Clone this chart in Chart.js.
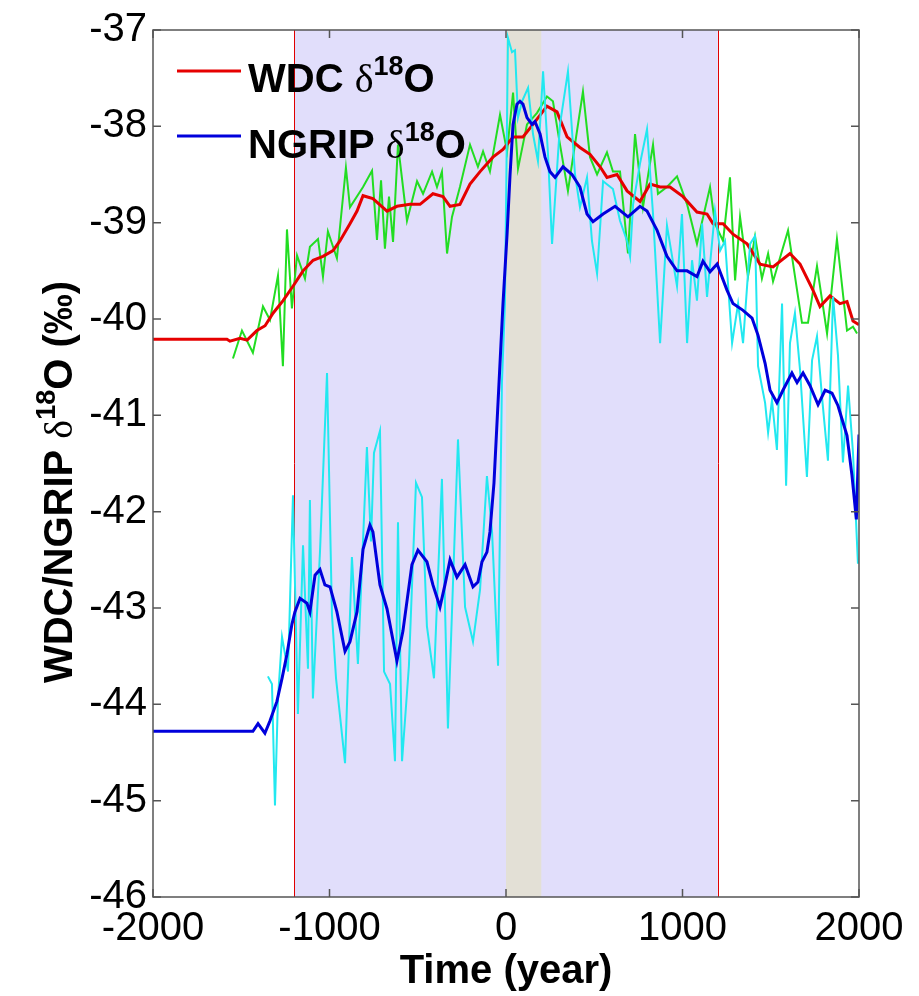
<!DOCTYPE html>
<html>
<head>
<meta charset="utf-8">
<script src="https://cdn.jsdelivr.net/npm/chart.js@4"></script>
<style>
  html, body { margin:0; padding:0; background:#fff; }
  canvas { display:block; }
</style>
</head>
<body>
<canvas id="chart" width="919" height="996"></canvas>
<script>
// WDC smoothed (red)
const wdcYears = [-2000,-1581,-1564,-1507,-1467,-1411,-1365,-1320,-1263,-1207,-1150,-1093,-1037,-980,-941,-884,-844,-810,-754,-674,-618,-544,-487,-414,-357,-317,-261,-204,-147,-74,-17,40,96,153,232,289,346,419,476,533,572,629,686,759,816,873,929,1003,1082,1139,1173,1230,1286,1366,1439,1513,1609,1666,1739,1779,1836,1892,1932,1966,2000];
const wdcVals = [-40.21,-40.21,-40.23,-40.20,-40.22,-40.12,-40.07,-39.94,-39.81,-39.66,-39.50,-39.39,-39.35,-39.29,-39.19,-39.01,-38.88,-38.72,-38.75,-38.88,-38.83,-38.81,-38.81,-38.70,-38.73,-38.83,-38.81,-38.60,-38.47,-38.32,-38.24,-38.11,-38.11,-37.98,-37.79,-37.85,-38.11,-38.22,-38.29,-38.42,-38.53,-38.50,-38.67,-38.78,-38.60,-38.63,-38.63,-38.73,-38.89,-38.91,-39.01,-39.01,-39.12,-39.22,-39.43,-39.46,-39.32,-39.43,-39.70,-39.87,-39.76,-39.84,-39.82,-40.02,-40.06];

// WDC raw (green)
const wdcRawYears = [-1547,-1496,-1434,-1377,-1337,-1292,-1264,-1241,-1213,-1184,-1139,-1111,-1065,-1037,-1009,-958,-907,-884,-810,-759,-731,-708,-686,-663,-640,-612,-561,-504,-470,-419,-391,-363,-334,-306,-261,-204,-159,-130,-91,-34,6,40,68,119,176,232,266,306,351,436,476,516,572,606,646,691,731,776,833,861,912,969,1026,1082,1156,1184,1230,1269,1298,1326,1371,1411,1450,1485,1513,1598,1677,1711,1762,1819,1875,1932,1966,1989];
const wdcRawVals = [-40.41,-40.12,-40.35,-39.87,-40.01,-39.55,-40.49,-39.07,-39.89,-39.34,-39.58,-39.25,-39.17,-39.56,-39.09,-39.37,-38.43,-38.84,-38.63,-38.46,-39.18,-38.56,-39.27,-38.73,-39.20,-38.19,-38.98,-38.57,-38.70,-38.47,-38.63,-38.47,-39.32,-38.94,-38.63,-38.19,-38.42,-38.26,-38.47,-37.88,-38.26,-37.65,-38.44,-37.98,-37.86,-37.69,-37.74,-38.19,-38.67,-37.64,-38.32,-38.50,-38.27,-38.47,-38.47,-39.32,-38.08,-38.84,-38.19,-38.70,-38.63,-38.52,-38.81,-39.22,-38.63,-39.01,-39.19,-38.53,-39.60,-38.94,-39.56,-39.14,-39.58,-39.32,-39.61,-39.08,-40.04,-40.04,-39.45,-40.15,-39.17,-40.12,-40.08,-40.15];

// NGRIP smoothed (blue)
const ngripYears = [-2000,-1434,-1405,-1366,-1337,-1298,-1269,-1241,-1213,-1196,-1167,-1128,-1111,-1082,-1054,-1026,-997,-958,-912,-884,-844,-810,-771,-754,-714,-674,-618,-584,-533,-499,-448,-414,-374,-346,-317,-278,-232,-187,-159,-136,-108,-91,-68,-51,-34,-17,6,23,40,62,79,96,119,147,164,193,221,249,278,323,374,419,459,493,550,618,691,759,799,856,912,969,1026,1082,1116,1156,1196,1252,1286,1343,1394,1428,1468,1496,1535,1569,1620,1649,1683,1722,1768,1808,1847,1881,1932,1960,1985,2000];
const ngripVals = [-44.28,-44.28,-44.20,-44.30,-44.17,-43.97,-43.73,-43.48,-43.17,-43.04,-42.90,-42.95,-43.04,-42.66,-42.60,-42.76,-42.78,-43.04,-43.45,-43.35,-43.04,-42.39,-42.14,-42.21,-42.76,-43.01,-43.55,-43.24,-42.55,-42.40,-42.52,-42.76,-42.99,-42.76,-42.50,-42.68,-42.55,-42.78,-42.73,-42.52,-42.42,-42.21,-41.70,-41.08,-40.46,-39.84,-39.12,-38.50,-37.98,-37.77,-37.74,-37.77,-37.91,-37.98,-37.95,-38.08,-38.32,-38.47,-38.53,-38.42,-38.50,-38.63,-38.91,-38.99,-38.91,-38.83,-38.94,-38.83,-38.88,-39.08,-39.35,-39.50,-39.50,-39.56,-39.40,-39.51,-39.43,-39.70,-39.84,-39.91,-39.99,-40.17,-40.46,-40.74,-40.87,-40.74,-40.56,-40.66,-40.56,-40.69,-40.89,-40.74,-40.77,-40.90,-41.21,-41.62,-42.08,-41.20];

// NGRIP raw (cyan)
const ngripRawYears = [-1349,-1326,-1309,-1292,-1269,-1235,-1207,-1179,-1150,-1122,-1111,-1094,-1054,-1014,-986,-963,-912,-873,-839,-788,-765,-748,-714,-691,-657,-629,-612,-589,-550,-510,-476,-448,-408,-363,-329,-272,-232,-187,-147,-108,-79,-45,-23,-6,11,34,51,68,91,125,153,181,210,238,261,306,351,391,419,459,487,516,550,606,646,686,703,720,759,799,833,873,912,941,969,997,1026,1054,1082,1111,1139,1184,1213,1241,1281,1315,1343,1383,1411,1428,1468,1485,1507,1535,1564,1587,1609,1637,1666,1705,1734,1762,1790,1824,1853,1881,1909,1938,1966,1994];
const ngripRawVals = [-43.71,-43.79,-45.05,-43.94,-43.30,-43.66,-41.83,-44.10,-42.35,-43.63,-41.88,-43.94,-42.42,-40.56,-43.07,-43.73,-44.61,-42.47,-43.58,-41.33,-42.31,-41.39,-41.16,-43.66,-43.79,-44.59,-42.11,-44.59,-43.60,-41.70,-41.85,-43.19,-43.73,-41.66,-44.25,-41.25,-42.99,-43.35,-42.81,-41.63,-42.21,-43.60,-40.66,-39.84,-37.08,-37.23,-37.21,-37.91,-37.74,-37.60,-38.08,-38.36,-37.43,-38.29,-39.22,-37.98,-37.43,-38.50,-38.84,-38.53,-39.19,-39.53,-38.57,-38.65,-38.98,-39.19,-39.35,-38.81,-38.39,-38.03,-38.91,-40.25,-39.03,-39.35,-39.66,-38.91,-40.25,-39.39,-39.81,-39.01,-39.77,-38.88,-39.29,-39.19,-40.25,-39.84,-40.25,-39.22,-39.14,-40.49,-40.87,-41.18,-40.84,-41.36,-39.84,-41.73,-40.25,-39.94,-40.53,-41.64,-40.43,-40.18,-40.80,-41.47,-39.77,-40.38,-41.49,-40.69,-41.39,-42.54];

const xTicks = [-2000, -1000, 0, 1000, 2000];
const yTicks = [-46, -45, -44, -43, -42, -41, -40, -39, -38, -37];
const shadeSpan = [-1200, 1200];   // purple window, red edges
const eventSpan = [0, 200];        // beige band

const RED = "#e60000", BLUE = "#0000dc", GREEN = "#22dd22", CYAN = "#22e8f0";
const SANS = "'Liberation Sans', Arial, sans-serif";

const pts = (xs, ys) => xs.map((x, i) => ({ x, y: ys[i] }));

// draw text pieces in a row; piece = [text, font, raise]
function richText(ctx, pieces, x, y){
  let cx = x;
  for (const [t, font, raise] of pieces){
    ctx.font = font;
    ctx.fillText(t, cx, y - (raise || 0));
    cx += ctx.measureText(t).width;
  }
  return cx - x;
}
function richWidth(ctx, pieces){
  let w = 0;
  for (const [t, font] of pieces){ ctx.font = font; w += ctx.measureText(t).width; }
  return w;
}
const label = (name) => [
  [name + " ", "bold 40px " + SANS, 0],
  ["\u03b4", "40px 'Liberation Serif', serif", 0],
  ["18", "bold 27px " + SANS, 17],
  ["O", "bold 40px " + SANS, 0]
];

const backdrop = {
  id: "backdrop",
  beforeDatasetsDraw(chart){
    const { ctx, chartArea: a, scales: { x } } = chart;
    ctx.save();
    ctx.fillStyle = "#e1defb";
    ctx.fillRect(x.getPixelForValue(shadeSpan[0]), a.top, x.getPixelForValue(shadeSpan[1]) - x.getPixelForValue(shadeSpan[0]), a.height);
    ctx.fillStyle = "#e3e0d6";
    ctx.fillRect(x.getPixelForValue(eventSpan[0]), a.top, x.getPixelForValue(eventSpan[1]) - x.getPixelForValue(eventSpan[0]), a.height);
    ctx.strokeStyle = "#e00000";
    ctx.lineWidth = 1;
    for (const v of shadeSpan){
      const px = Math.round(x.getPixelForValue(v)) + 0.5;
      ctx.beginPath(); ctx.moveTo(px, a.top); ctx.lineTo(px, a.bottom); ctx.stroke();
    }
    ctx.restore();
  }
};

const frame = {
  id: "frame",
  afterDraw(chart){
    const { ctx, chartArea: a, scales: { x, y } } = chart;
    ctx.save();
    // box + inward ticks (matlab style)
    ctx.strokeStyle = "#555";
    ctx.lineWidth = 1.5;
    ctx.strokeRect(a.left, a.top, a.width, a.height);
    ctx.beginPath();
    for (const v of xTicks){
      const px = x.getPixelForValue(v);
      ctx.moveTo(px, a.bottom); ctx.lineTo(px, a.bottom - 8);
      ctx.moveTo(px, a.top); ctx.lineTo(px, a.top + 8);
    }
    for (const v of yTicks){
      const py = y.getPixelForValue(v);
      ctx.moveTo(a.left, py); ctx.lineTo(a.left + 8, py);
      ctx.moveTo(a.right, py); ctx.lineTo(a.right - 8, py);
    }
    ctx.stroke();

    // legend
    ctx.fillStyle = "#000";
    ctx.textBaseline = "alphabetic";
    ctx.textAlign = "left";
    const rows = [[RED, "WDC", 71, 92], [BLUE, "NGRIP", 136, 158]];
    for (const [col, name, ly, by] of rows){
      ctx.strokeStyle = col; ctx.lineWidth = 3;
      ctx.beginPath(); ctx.moveTo(177, ly); ctx.lineTo(241, ly); ctx.stroke();
      richText(ctx, label(name), 248, by);
    }

    // y title, rotated
    const pieces = [
      ["WDC/NGRIP ", "bold 40px " + SANS, 0],
      ["\u03b4", "40px 'Liberation Serif', serif", 0],
      ["18", "bold 27px " + SANS, 17],
      ["O (\u2030)", "bold 40px " + SANS, 0]
    ];
    const w = richWidth(ctx, pieces);
    ctx.translate(72, 482);
    ctx.rotate(-Math.PI / 2);
    richText(ctx, pieces, -w / 2, 0);
    ctx.restore();
  }
};

new Chart(document.getElementById("chart"), {
  type: "line",
  data: {
    datasets: [
      { label: "NGRIP smooth", data: pts(ngripYears, ngripVals), borderColor: BLUE, borderWidth: 3 },
      { label: "NGRIP raw", data: pts(ngripRawYears, ngripRawVals), borderColor: CYAN, borderWidth: 2 },
      { label: "WDC smooth", data: pts(wdcYears, wdcVals), borderColor: RED, borderWidth: 3 },
      { label: "WDC raw", data: pts(wdcRawYears, wdcRawVals), borderColor: GREEN, borderWidth: 2 }
    ]
  },
  options: {
    responsive: false,
    devicePixelRatio: 1,
    animation: false,
    elements: { point: { radius: 0 }, line: { tension: 0, fill: false } },
    layout: { padding: { top: 25, right: 60, left: 0, bottom: 0 } },
    plugins: { legend: { display: false }, tooltip: { enabled: false } },
    scales: {
      x: {
        type: "linear", min: -2000, max: 2000,
        afterBuildTicks: (s) => { s.ticks = xTicks.map(v => ({ value: v })); },
        afterFit: (s) => { s.height = 99; },
        grid: { display: false, drawTicks: false },
        border: { display: false },
        ticks: { color: "#000", padding: 8, maxRotation: 0, font: { family: SANS, size: 40 }, callback: (v) => String(v) },
        title: { display: true, text: "Time (year)", color: "#000", padding: 0, font: { family: SANS, size: 40, weight: "bold", lineHeight: 1.2 } }
      },
      y: {
        type: "linear", min: -46, max: -37,
        afterBuildTicks: (s) => { s.ticks = yTicks.map(v => ({ value: v })); },
        afterFit: (s) => { s.width = 153; },
        grid: { display: false, drawTicks: false },
        border: { display: false },
        ticks: { color: "#000", padding: 6, font: { family: SANS, size: 40 }, callback: (v) => String(v) }
      }
    }
  },
  plugins: [backdrop, frame]
});
</script>
</body>
</html>
